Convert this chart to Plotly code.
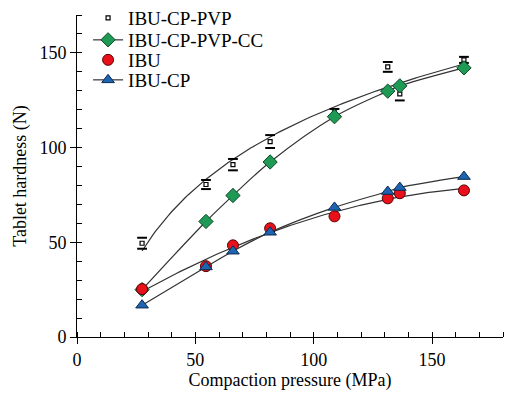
import numpy as np
import plotly.graph_objects as go

# Compaction pressure (MPa)
pressure = [27.5, 54.5, 65.9, 81.6, 108.8, 131.3, 136.4, 163.5]

# Tablet hardness (N)
ibu_cp_pvp = [49.5, 80.5, 91.0, 103.2, 118.4, 142.6, 128.4, 146.3]
ibu_cp_pvp_err = [2.9, 2.4, 3.0, 3.4, 2.0, 2.6, 3.5, 1.6]
ibu_cp_pvp_cc = [25.0, 61.0, 74.7, 92.4, 116.3, 129.8, 132.6, 142.1]
ibu = [25.3, 37.4, 48.4, 57.4, 63.7, 73.2, 75.9, 77.4]
ibu_cp = [16.8, 37.0, 45.3, 55.3, 68.4, 76.8, 78.9, 84.7]

x_ticks = [0, 50, 100, 150]
y_ticks = [0, 50, 100, 150]

FONT = "Liberation Serif, Times New Roman, serif"
LINE = "#333333"

W, H = 529, 399
ML, MR, MT, MB = 77, 26, 15, 62
PH = H - MT - MB

fig = go.Figure()

xa = np.array(pressure)
xf = np.linspace(xa.min(), xa.max(), 120)

# logarithmic trendline for IBU-CP-PVP
c_log = np.polyfit(np.log(xa), np.array(ibu_cp_pvp), 1)
fig.add_trace(go.Scatter(x=xf, y=np.polyval(c_log, np.log(xf)), mode="lines",
                         line=dict(color=LINE, width=1.2),
                         showlegend=False, hoverinfo="skip"))
# polynomial trendline for IBU
c_poly = np.polyfit(xa, np.array(ibu), 2)
fig.add_trace(go.Scatter(x=xf, y=np.polyval(c_poly, xf), mode="lines",
                         line=dict(color=LINE, width=1.2),
                         showlegend=False, hoverinfo="skip"))

# error caps for IBU-CP-PVP
up = [v + e for v, e in zip(ibu_cp_pvp, ibu_cp_pvp_err)]
lo = [v - e for v, e in zip(ibu_cp_pvp, ibu_cp_pvp_err)]
fig.add_trace(go.Scatter(x=pressure + pressure, y=up + lo, mode="markers",
                         marker=dict(symbol="line-ew-open", size=7, color="black",
                                     line=dict(color="black", width=2)),
                         showlegend=False, hoverinfo="skip"))

fig.add_trace(go.Scatter(x=pressure, y=ibu_cp_pvp, mode="markers",
                         name="IBU-CP-PVP", legend="legend",
                         marker=dict(symbol="square-open", size=4,
                                     color="black", line=dict(color="black", width=1.2))))
fig.add_trace(go.Scatter(x=pressure, y=ibu_cp_pvp_cc, mode="lines+markers",
                         name="IBU-CP-PVP-CC", legend="legend2",
                         line=dict(color=LINE, width=1.2, shape="spline"),
                         marker=dict(symbol="diamond", size=11, color="#1e9a55",
                                     line=dict(color="#0d4a28", width=1))))
fig.add_trace(go.Scatter(x=pressure, y=ibu, mode="markers", name="IBU",
                         legend="legend3",
                         marker=dict(symbol="circle", size=11, color="#e8101a",
                                     line=dict(color="#5a0000", width=1))))
fig.add_trace(go.Scatter(x=pressure, y=ibu_cp, mode="lines+markers", name="IBU-CP",
                         legend="legend4",
                         line=dict(color=LINE, width=1.2, shape="spline"),
                         marker=dict(symbol="triangle-up", size=11, color="#1f64b0",
                                     line=dict(color="#0a2a50", width=1))))

axis_common = dict(showline=True, linecolor="black", linewidth=1,
                   ticks="outside", ticklen=6, tickcolor="black",
                   showgrid=False, zeroline=False,
                   tickfont=dict(family=FONT, size=18, color="black"),
                   minor=dict(ticks="inside", ticklen=5, dtick=10, tickcolor="black",
                              showgrid=False))

fig.update_xaxes(range=[0, 180], tickvals=x_ticks,
                 title=dict(text="Compaction pressure (MPa)", standoff=3,
                            font=dict(family=FONT, size=18, color="black")),
                 **axis_common)
fig.update_yaxes(range=[0, 170], tickvals=y_ticks,
                 title=dict(text="Tablet hardness (N)", standoff=8,
                            font=dict(family=FONT, size=18, color="black")),
                 **axis_common)


def leg(center_px):
    return dict(x=0.026, y=1 - (center_px - MT) / PH, xanchor="left", yanchor="middle",
                bgcolor="rgba(0,0,0,0)",
                font=dict(family=FONT, size=19, color="black"))


fig.update_layout(width=W, height=H,
                  margin=dict(l=ML, r=MR, t=MT, b=MB, autoexpand=False),
                  paper_bgcolor="white", plot_bgcolor="white",
                  legend=leg(18), legend2=leg(40), legend3=leg(60), legend4=leg(80))

fig.write_html("out.html", config={"displayModeBar": False},
               post_script="document.body.style.margin='0';")
